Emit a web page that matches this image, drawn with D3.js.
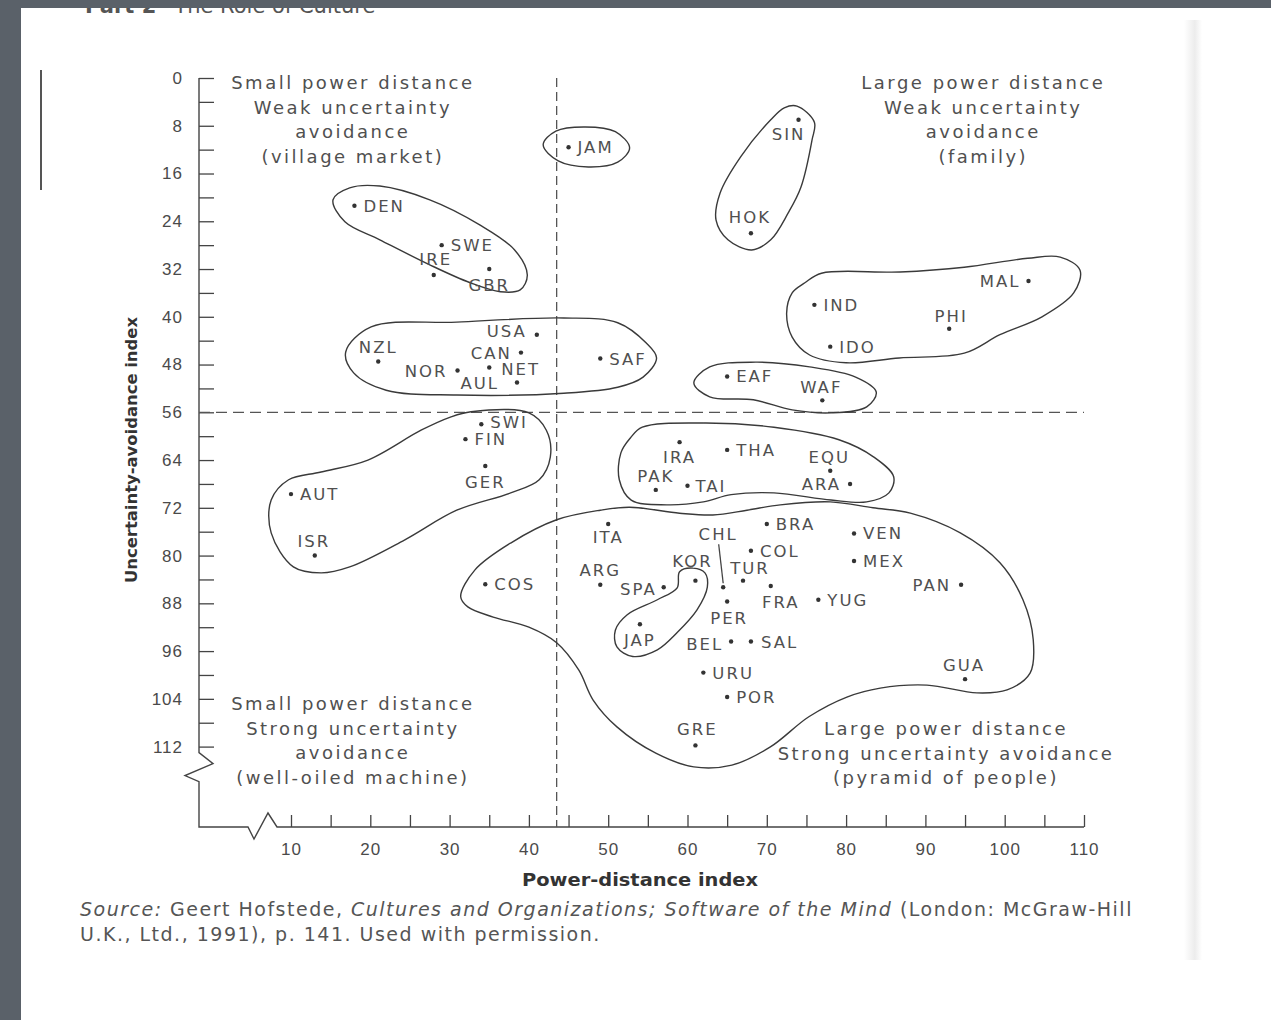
<!DOCTYPE html>
<html lang="en">
<head>
<meta charset="UTF-8">
<title>Power distance x Uncertainty avoidance</title>
<style>
    body { margin: 0; background: #fff; }
    svg { display: block; font-family: "DejaVu Sans", sans-serif; }
    .tick text { font-size: 17px; fill: #4a4a4a; letter-spacing: 1px; }
    .tick line { stroke: #444; stroke-width: 1.3; }
    .lbl { font-size: 16.5px; fill: #505050; letter-spacing: 2px; }
    .quad { font-size: 18px; fill: #505050; letter-spacing: 2.5px; }
    .outline { fill: none; stroke: #3a3a3a; stroke-width: 1.4; }
    .dash { stroke: #555; stroke-width: 1.3; }
    .src { font-size: 19px; fill: #555; letter-spacing: 1.5px; }
</style>
</head>
<body>
<svg width="1271" height="1020"></svg>
<script src="https://d3js.org/d3.v7.min.js"></script>
<script>
// country codes with power-distance and uncertainty-avoidance index
const countries = ['JAM','SIN','HOK','DEN','SWE','IRE','GBR','MAL','IND','PHI','IDO',
    'USA','CAN','NZL','NOR','NET','AUL','SAF','EAF','WAF','SWI','FIN','GER','AUT','ISR',
    'IRA','THA','EQU','PAK','TAI','ARA','ITA','BRA','CHL','COL','KOR','TUR','FRA','SPA',
    'ARG','PER','YUG','JAP','BEL','SAL','VEN','MEX','URU','POR','GRE','PAN','GUA','COS'];
const powerDistance = [45, 74, 68, 18, 29, 28, 35, 103, 76, 93, 78,
    41, 39, 21, 31, 35, 38.5, 49, 65, 77, 34, 32, 34.5, 10, 13,
    59, 65, 78, 56, 60, 80.5, 50, 70, 64.5, 68, 61, 67, 70.5, 57,
    49, 65, 76.5, 54, 65.5, 68, 81, 81, 62, 65, 61, 94.5, 95, 34.5];
const uncertaintyAvoidance = [11.6, 7, 26, 21.4, 28, 33, 32, 34, 38, 42, 45,
    43, 46, 47.5, 49, 48.5, 51, 47, 50, 54, 58, 60.5, 65, 69.7, 80,
    61, 62.3, 65.8, 69, 68.3, 68, 74.7, 74.7, 85.3, 79.2, 84.2, 84.2, 85.1, 85.3,
    84.9, 87.7, 87.4, 91.5, 94.4, 94.4, 76.3, 80.9, 99.6, 103.7, 111.8, 84.9, 100.7, 84.8];

const xTicks = d3.range(10, 111, 5);
const yTicks = d3.range(0, 113, 4);
const pdiSplit = 43.5;
const uaiSplit = 56;

// cluster outlines, in index units [PDI, UAI]
const clusters = [
    [[41.8,11.2],[43.4,8.9],[47.1,8.2],[50.9,9.0],[52.7,11.7],[51.2,14.1],[47.5,14.9],[43.7,13.9]],
    [[73.8,4.7],[76.0,7.4],[75.7,10.4],[74.3,18.3],[72.7,22.6],[70.5,27.1],[68.1,28.8],[65.1,27.1],[63.6,23.8],[64.1,19.3],[66.7,13.2],[70.5,7.0],[72.2,5.0]],
    [[15.3,20.4],[17.4,18.4],[21.2,18.1],[27.5,20.4],[33.8,24.6],[38.2,28.8],[39.8,33.0],[38.9,35.5],[36.4,35.8],[32.6,34.3],[27.5,31.3],[21.2,27.1],[16.8,24.1]],
    [[73.2,36.0],[72.5,39.4],[73.2,43.4],[75.4,46.4],[80.0,47.7],[86.7,46.9],[94.9,46.1],[99.4,43.0],[104.7,40.0],[108.7,36.0],[109.5,32.2],[107.0,30.0],[102.9,30.2],[94.9,31.7],[86.8,32.5],[76.9,32.7],[74.8,34.3]],
    [[16.9,45.9],[20.1,41.7],[30.9,40.9],[44.4,40.2],[51.2,41.0],[54.8,44.4],[56.1,46.9],[54.4,50.1],[51.2,51.8],[44.4,52.8],[30.9,53.1],[22.0,52.3],[17.9,49.4]],
    [[60.8,51.1],[62.8,48.4],[68.6,47.6],[75.4,48.4],[81.2,50.1],[83.8,52.6],[82.6,55.1],[78.1,56.1],[73.2,55.6],[68.3,53.9],[62.8,53.4]],
    [[32.7,55.9],[40.0,56.1],[42.2,59.0],[42.7,63.5],[41.3,67.3],[37.7,69.5],[30.9,72.4],[24.3,77.4],[17.4,81.9],[13.8,82.9],[10.3,81.9],[7.5,76.2],[7.5,70.7],[9.7,67.3],[13.8,66.0],[19.7,64.0],[26.4,59.0],[30.1,56.8]],
    [[54.3,58.5],[62.0,57.8],[70.9,58.5],[79.1,60.6],[83.5,63.5],[86.0,66.8],[85.4,69.5],[82.6,71.0],[78.1,70.7],[70.9,69.5],[65.5,69.8],[62.0,71.0],[57.4,71.5],[52.9,70.7],[51.4,67.3],[51.6,62.8],[52.8,60.3]],
    [[31.4,86.9],[33.2,82.4],[37.7,77.9],[43.5,74.0],[49.0,72.4],[52.7,71.9],[59.0,72.9],[63.2,73.2],[67.5,72.4],[71.7,71.5],[78.0,71.0],[83.4,72.0],[88.1,72.9],[94.4,76.2],[99.4,81.2],[102.3,87.4],[103.6,94.1],[103.2,99.7],[100.3,102.5],[96.5,103.0],[90.2,101.7],[84.3,102.2],[80.1,103.7],[75.3,107.0],[70.4,112.1],[65.6,115.1],[60.8,115.4],[56.0,113.1],[51.1,108.7],[48.1,104.2],[46.3,99.2],[43.5,94.6],[40.0,92.0],[35.5,90.3],[32.3,88.6]],
    [[59.0,82.7],[60.7,82.1],[62.2,82.9],[62.5,85.3],[61.2,89.1],[58.7,92.9],[56.2,95.8],[53.1,96.9],[51.1,95.3],[50.9,92.5],[52.4,89.9],[56.2,87.4],[58.7,85.4]]
];

const quadrants = [
    {pdi: 17.8, uai: 0.9, lines: ['Small power distance', 'Weak uncertainty', 'avoidance', '(village market)']},
    {pdi: 97.3, uai: 0.9, lines: ['Large power distance', 'Weak uncertainty', 'avoidance', '(family)']},
    {pdi: 17.8, uai: 104.9, lines: ['Small power distance', 'Strong uncertainty', 'avoidance', '(well-oiled machine)']},
    {pdi: 92.6, uai: 109.1, lines: ['Large power distance', 'Strong uncertainty avoidance', '(pyramid of people)']}
];

// label placement around each dot: [dx, dy, anchor]; default is to the right
const labelAt = {
    SIN: [-10, 20, 'middle'], HOK: [-1, -10, 'middle'], IRE: [2, -10, 'middle'], GBR: [0, 22, 'middle'],
    MAL: [-8, 6, 'end'], PHI: [2, -7, 'middle'], USA: [-10, 2, 'end'], CAN: [-9, 6, 'end'],
    NZL: [0, -9, 'middle'], NOR: [-10, 6, 'end'], NET: [12, 7, 'start'], AUL: [-18, 7, 'end'],
    WAF: [-1, -7, 'middle'], SWI: [9, 4, 'start'], GER: [0, 22, 'middle'], ISR: [-1, -9, 'middle'],
    IRA: [0, 21, 'middle'], EQU: [-1, -8, 'middle'], PAK: [0, -8, 'middle'], TAI: [8, 6, 'start'],
    ARA: [-9, 6, 'end'], ITA: [0, 19, 'middle'], CHL: [-5, -47, 'middle'], KOR: [-3, -14, 'middle'],
    TUR: [7, -7, 'middle'], FRA: [10, 22, 'middle'], SPA: [-7, 8, 'end'], ARG: [0, -9, 'middle'],
    PER: [2, 22, 'middle'], JAP: [0, 22, 'middle'], BEL: [-8, 8, 'end'], SAL: [10, 6, 'start'],
    PAN: [-10, 6, 'end'], GRE: [2, -10, 'middle'], GUA: [-1, -8, 'middle']
};

const svg = d3.select('svg');
const x = d3.scaleLinear().domain([10, 110]).range([291, 1084]);
const y = d3.scaleLinear().domain([0, 112]).range([78, 746.6]);
const axisX = 199, axisY = 827;

// page scan bits: header peeking under the top edge, margin mark, page shadow
const head = svg.append('text').attr('x', 85).attr('y', 13).attr('fill', '#555').style('font-size', '21px');
head.append('tspan').attr('font-weight', 'bold').text('Part 2');
head.append('tspan').attr('dx', 18).text('The Role of Culture');
svg.append('line').attr('x1', 41).attr('x2', 41).attr('y1', 70).attr('y2', 190)
    .attr('stroke', '#555').attr('stroke-width', 2);
const grad = svg.append('defs').append('linearGradient').attr('id', 'edge');
grad.append('stop').attr('offset', '0%').attr('stop-color', '#fff');
grad.append('stop').attr('offset', '60%').attr('stop-color', '#ececec');
grad.append('stop').attr('offset', '100%').attr('stop-color', '#fff');
svg.append('rect').attr('x', 1184).attr('y', 20).attr('width', 18).attr('height', 940).attr('fill', 'url(#edge)');

// axes
const gy = svg.append('g').attr('transform', `translate(${axisX},0)`)
    .call(d3.axisLeft(y).tickValues(yTicks).tickSizeInner(-15).tickSizeOuter(0).tickPadding(16)
        .tickFormat(d => d % 8 === 0 ? d : ''));
gy.select('.domain').remove();

const gx = svg.append('g').attr('transform', `translate(0,${axisY})`)
    .call(d3.axisBottom(x).tickValues(xTicks).tickSizeInner(-12).tickSizeOuter(0).tickPadding(16)
        .tickFormat(d => d % 10 === 0 ? d : ''));
gx.select('.domain').remove();

// axis lines with break marks
const yb = y(112) + 6;
svg.append('path').attr('fill', 'none').attr('stroke', '#444').attr('stroke-width', 1.4)
    .attr('d', `M${axisX},${y(0)}V${yb}l14,11l-28,12l14,6V${axisY}H248l6,12l14,-26l9,14H${x(110)}`);

// dividing lines
svg.append('line').attr('class', 'dash').attr('stroke-dasharray', '9,5')
    .attr('x1', x(pdiSplit)).attr('x2', x(pdiSplit)).attr('y1', y(0)).attr('y2', axisY);
svg.append('line').attr('class', 'dash').attr('stroke-dasharray', '11,6')
    .attr('x1', axisX).attr('x2', x(110)).attr('y1', y(uaiSplit)).attr('y2', y(uaiSplit));

// cluster outlines
const outline = d3.line().x(d => x(d[0])).y(d => y(d[1])).curve(d3.curveCatmullRomClosed.alpha(0.5));
svg.append('g').selectAll('path').data(clusters).join('path')
    .attr('class', 'outline').attr('d', outline);

// quadrant captions
quadrants.forEach(q => {
    svg.append('text').attr('class', 'quad').attr('text-anchor', 'middle')
        .selectAll('tspan').data(q.lines).join('tspan')
        .attr('x', x(q.pdi)).attr('y', (d, i) => y(q.uai) + 6 + i * 24.5)
        .text(d => d);
});

// countries
const pts = countries.map((c, i) => ({code: c, px: x(powerDistance[i]), py: y(uncertaintyAvoidance[i])}));
svg.append('g').selectAll('circle').data(pts).join('circle')
    .attr('cx', d => d.px).attr('cy', d => d.py).attr('r', 2.2).attr('fill', '#333');
svg.append('g').selectAll('text').data(pts).join('text')
    .attr('class', 'lbl')
    .attr('x', d => d.px + (labelAt[d.code] || [9])[0])
    .attr('y', d => d.py + (labelAt[d.code] || [9, 6])[1])
    .attr('text-anchor', d => (labelAt[d.code] || [9, 6, 'start'])[2])
    .text(d => d.code);

// leader from CHL label down to its dot
const chl = pts.find(d => d.code === 'CHL');
svg.append('line').attr('x1', chl.px - 4.5).attr('y1', chl.py - 43).attr('x2', chl.px).attr('y2', chl.py - 4)
    .attr('stroke', '#444').attr('stroke-width', 1.3);

// axis titles
svg.append('text').attr('transform', 'translate(137,450) rotate(-90)').attr('text-anchor', 'middle')
    .attr('font-weight', 'bold').attr('fill', '#333').style('font-size', '16px')
    .attr('textLength', 266).attr('lengthAdjust', 'spacingAndGlyphs')
    .text('Uncertainty-avoidance index');
svg.append('text').attr('x', 640).attr('y', 886).attr('text-anchor', 'middle')
    .attr('font-weight', 'bold').attr('fill', '#333').style('font-size', '17px')
    .attr('textLength', 236).attr('lengthAdjust', 'spacingAndGlyphs')
    .text('Power-distance index');

// source note
const src = svg.append('text').attr('class', 'src').attr('x', 80).attr('y', 916);
src.append('tspan').attr('font-style', 'italic').text('Source:');
src.append('tspan').text(' Geert Hofstede, ');
src.append('tspan').attr('font-style', 'italic').text('Cultures and Organizations; Software of the Mind');
src.append('tspan').text(' (London: McGraw-Hill');
svg.append('text').attr('class', 'src').attr('x', 80).attr('y', 941)
    .text('U.K., Ltd., 1991), p. 141. Used with permission.');

// scanner border
svg.append('rect').attr('x', 0).attr('y', 0).attr('width', 1271).attr('height', 8).attr('fill', '#5a6169');
svg.append('rect').attr('x', 0).attr('y', 0).attr('width', 21).attr('height', 1020).attr('fill', '#5a6169');
</script>
</body>
</html>
